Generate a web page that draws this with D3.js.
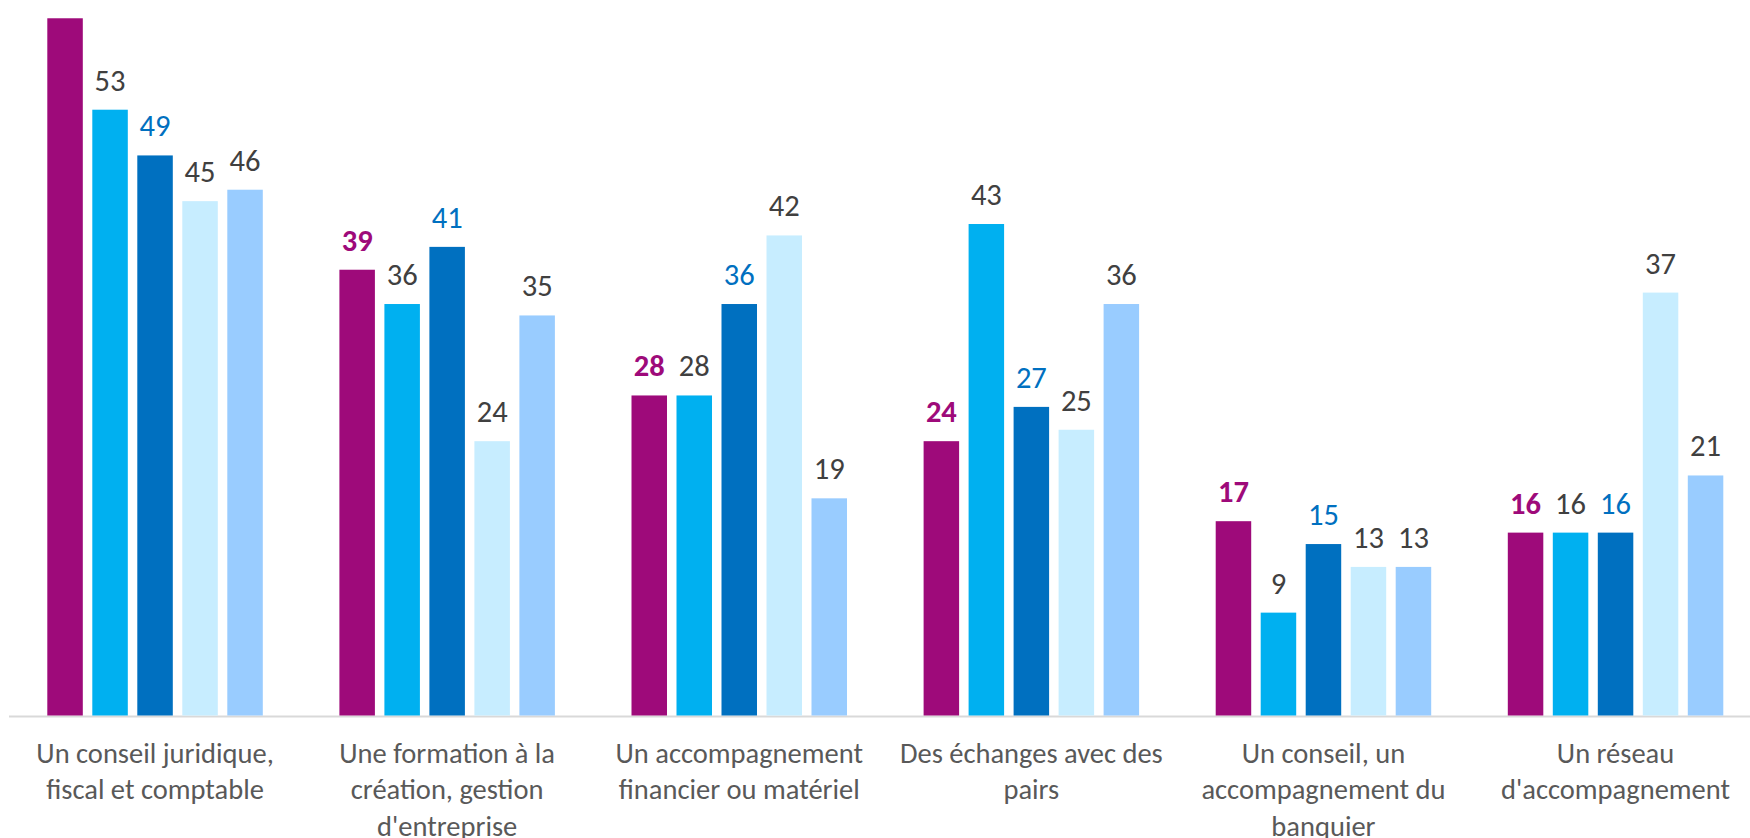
<!DOCTYPE html>
<html><head><meta charset="utf-8">
<script src="https://cdn.jsdelivr.net/npm/d3@7"></script>
<style>
html,body{margin:0;padding:0;background:#fff;overflow:hidden;}
svg{display:block;}
</style></head>
<body>
<svg id="chart" width="1750" height="838"></svg>
<script>
const categories = [
  ["Un conseil juridique,", "fiscal et comptable"],
  ["Une formation à la", "création, gestion", "d'entreprise"],
  ["Un accompagnement", "financier ou matériel"],
  ["Des échanges avec des", "pairs"],
  ["Un conseil, un", "accompagnement du", "banquier"],
  ["Un réseau", "d'accompagnement"]
];
const seriesNames = ["S1", "S2", "S3", "S4", "S5"];
const s1 = [61, 39, 28, 24, 17, 16];
const s2 = [53, 36, 28, 43, 9, 16];
const s3 = [49, 41, 36, 27, 15, 16];
const s4 = [45, 24, 42, 25, 13, 37];
const s5 = [46, 35, 19, 36, 13, 21];
const seriesValues = [s1, s2, s3, s4, s5];
const barColors = ["#9E0A7A", "#00B0F0", "#0070C0", "#C7EDFF", "#99CCFF"];
const labelColors = ["#9E0A7A", "#404040", "#0070C0", "#404040", "#404040"];
const labelWeights = ["bold", "normal", "normal", "normal", "normal"];

const FONT = "Calibri, Carlito, Lato, sans-serif";
const svg = d3.select("#chart");
const catKeys = categories.map((c, i) => "c" + i);

const x0 = d3.scaleBand().domain(catKeys).range([9, 1761.6]).paddingInner(0).paddingOuter(0);
const half = x0.bandwidth() / 2;
const x1 = d3.scaleBand().domain(seriesNames).range([-107.75, 107.75]).paddingInner(0.211).paddingOuter(0);
const y = d3.scaleLinear().domain([0, 60]).range([715.5, 715.5 - 60 * 11.43]);

const data = [];
catKeys.forEach((c, ci) => {
  seriesNames.forEach((s, si) => {
    data.push({c, s, si, v: seriesValues[si][ci]});
  });
});

// baseline axis
svg.append("line")
  .attr("x1", 9).attr("x2", 1750)
  .attr("y1", y(0) + 1).attr("y2", y(0) + 1)
  .attr("stroke", "#D9D9D9").attr("stroke-width", 1.8);

svg.append("g").selectAll("rect").data(data).join("rect")
  .attr("x", d => x0(d.c) + half + x1(d.s))
  .attr("y", d => y(d.v))
  .attr("width", x1.bandwidth())
  .attr("height", d => y(0) - y(d.v))
  .attr("fill", d => barColors[d.si]);

svg.append("g").selectAll("text").data(data).join("text")
  .attr("x", d => x0(d.c) + half + x1(d.s) + x1.bandwidth() / 2)
  .attr("y", d => y(d.v) - 19)
  .attr("text-anchor", "middle")
  .attr("font-family", FONT)
  .attr("font-size", 30.5)
  .attr("font-weight", d => labelWeights[d.si])
  .attr("fill", d => labelColors[d.si])
  .text(d => d.v);

const catG = svg.append("g");
categories.forEach((lines, ci) => {
  const t = catG.append("text")
    .attr("x", x0(catKeys[ci]) + half)
    .attr("y", 763)
    .attr("text-anchor", "middle")
    .attr("font-family", FONT)
    .attr("font-size", 28.5)
    .attr("fill", "#595959");
  lines.forEach((ln, li) => {
    t.append("tspan").attr("x", x0(catKeys[ci]) + half).attr("dy", li === 0 ? 0 : 36.3).text(ln);
  });
});
</script>
</body></html>
